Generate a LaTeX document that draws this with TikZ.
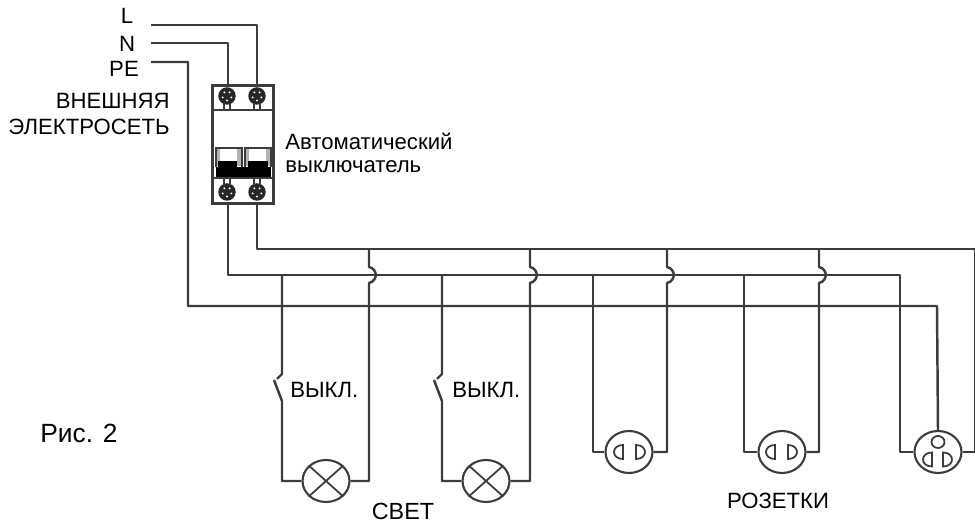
\documentclass[tikz,border=0pt]{standalone}
\usepackage{fontspec}
\setmainfont{Liberation Sans}
\usetikzlibrary{shapes.geometric, positioning}
\definecolor{wirecol}{HTML}{3C3C3C}

\begin{document}
\begin{tikzpicture}[
        x=0.02cm, y=-0.02cm,
        wire/.style={draw=wirecol, line width=1.4pt, line join=round},
        thin wire/.style={draw=wirecol, line width=1pt},
        lamp/.style={draw=wirecol, ellipse, line width=1.2pt, fill=white, minimum width=0.94cm, minimum height=0.84cm, inner sep=0pt},
        socket/.style={lamp},
        screw/.style={circle, fill=black!85, minimum size=0.35cm, inner sep=0pt},
        breaker/.style={draw=wirecol, rectangle, line width=1.2pt, minimum width=1.22cm, minimum height=2.36cm, inner sep=0pt},
        lbl/.style={font=\fontsize{12.6}{14}\selectfont, inner sep=0pt, text=black},
        plugl/.pic={\draw[thin wire] (4,-7) -- (4,7) .. controls (-8,7) and (-8,-7) .. (4,-7) -- cycle;},
        plugr/.pic={\draw[thin wire] (-4,-7) -- (-4,7) .. controls (8,7) and (8,-7) .. (-4,-7) -- cycle;},
    ]
    \useasboundingbox (0,0) rectangle (975,523);

    % Nodes
    \node [breaker] (qf) at (243,144.5) {};
    \node [lamp] (lamp1) at (326,481) {};
    \node [lamp] (lamp2) at (486,481) {};
    \node [socket] (sock1) at (629,452) {};
    \node [socket] (sock2) at (782,452) {};
    \node [socket] (sock3) at (938,452) {};
    \node [screw] (sa) at (227,96) {};
    \node [screw] (sb) at (257,96) {};
    \node [screw] (sc) at (227,192) {};
    \node [screw] (sd) at (257,192) {};

    % Inputs and bus corners
    \coordinate (inL) at (151,25);
    \coordinate (inN) at (151,43);
    \coordinate (inPE) at (151,62);
    \coordinate (qfa) at (228,86);
    \coordinate (qfb) at (257,86);
    \coordinate (qfc) at (228,203);
    \coordinate (qfd) at (257,203);
    \coordinate (busL) at (975,249);
    \coordinate (busN) at (900,275);
    \coordinate (busPE) at (188,306);
    \coordinate (busE) at (937,306);

    % Breaker inside
    \draw [thin wire] (qf.west |- 0,110) -- (qf.east |- 0,110);
    \draw [thin wire] (qf.west |- 0,178) -- (qf.east |- 0,178);
    \foreach \s/\x in {sa/227,sb/257} {
        \draw [thin wire] (\x-3,103) -- (\x-3,110) (\x+3,103) -- (\x+3,110);
    }
    \foreach \s/\x in {sc/227,sd/257} {
        \draw [thin wire] (\x-3,178) -- (\x-3,185) (\x+3,178) -- (\x+3,185);
    }
    \foreach \s in {sa,sb,sc,sd} {
        \foreach \a in {90,162,234,306,18} {
            \fill [white] (\s) ++(\a:4.5) circle (1.1);
        }
    }
    \draw [thin wire] (216,167) -- (216,148) -- (242,148) -- (242,167);
    \draw [thin wire] (245,167) -- (245,148) -- (271,148) -- (271,167);
    \fill [black!30] (217,149) rectangle (220,166);
    \fill [black!30] (237,149) rectangle (241,166);
    \fill [black!30] (246,149) rectangle (249,166);
    \fill [black!30] (266,149) rectangle (270,166);
    \fill [black] (218,161) rectangle (237,167);
    \fill [black] (248,161) rectangle (268,167);
    \fill [black] (216,167) rectangle (271,177);

    % Supply wires
    \draw [wire] (inL) -| (qfb);
    \draw [wire] (inN) -| (qfa);
    \draw [wire] (inPE) -| (busPE) -- (busE) -- (sock3.north);
    \draw [wire] (qfd) |- (busL) -- (975,452) -- (sock3.east);
    \draw [wire] (qfc) |- (busN) -- (900,452) -- (sock3.west);

    % Neutral drops
    \draw [wire] (282,275) -- (282,374) -- (277,379);
    \draw [wire] (274,380) -- (282,401) |- (lamp1.west);
    \draw [wire] (442,275) -- (442,374) -- (437,379);
    \draw [wire] (434,380) -- (442,401) |- (lamp2.west);
    \draw [wire] (593,275) |- (sock1.west);
    \draw [wire] (744,275) |- (sock2.west);

    % Live drops with jumps over the neutral
    \foreach \x/\t in {369/lamp1,530/lamp2,667/sock1,819/sock2} {
        \draw [wire] (\x,249) -- (\x,267) .. controls (\x+9,269) and (\x+9,281) .. (\x,283) |- (\t.east);
    }

    % Lamp crosses
    \foreach \t in {lamp1,lamp2} {
        \draw [thin wire] (\t.north west) -- (\t.south east);
        \draw [thin wire] (\t.north east) -- (\t.south west);
    }

    % Socket pins
    \path (619,452) pic {plugl} (640,452) pic {plugr};
    \path (771,452) pic {plugl} (792,452) pic {plugr};
    \path (928,459.5) pic {plugl} (947,459.5) pic {plugr};
    \draw [thin wire] (938,442) ellipse (6.5 and 6);

    % Labels
    \node [lbl] (tL) at (127,16) {L};
    \node [lbl] (tN) at (127,44) {N};
    \node [lbl] (tPE) at (124,69) {PE};
    \node [lbl, anchor=east] (tOut) at (170,101) {ВНЕШНЯЯ};
    \node [lbl, anchor=east] (tNet) at (170,127) {ЭЛЕКТРОСЕТЬ};
    \node [lbl, anchor=west] (tQf) at (285,141) {Автоматический};
    \node [lbl, anchor=west] (tQg) at (285,167) {выключатель};
    \node [lbl, anchor=west] (tS1) at (290,390) {ВЫКЛ.};
    \node [lbl, anchor=west] (tS2) at (452,390) {ВЫКЛ.};
    \node [lbl, anchor=west, font=\fontsize{15}{18}\selectfont] (tFig) at (40,433) {Рис. 2};
    \node [lbl, font=\fontsize{13.3}{16}\selectfont] (tLight) at (403,511) {СВЕТ};
    \node [lbl] (tSock) at (778,501) {РОЗЕТКИ};
\end{tikzpicture}
\end{document}
